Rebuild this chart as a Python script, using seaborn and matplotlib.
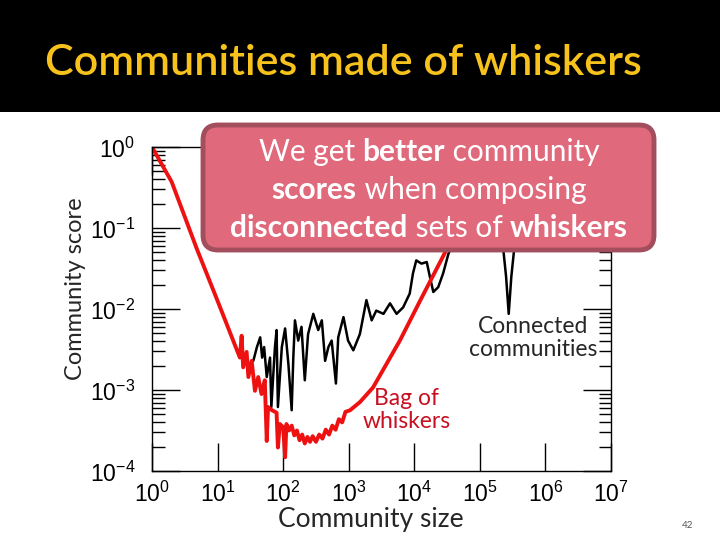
import numpy as np
import matplotlib
matplotlib.use('Agg')
import matplotlib.pyplot as plt
from matplotlib.patches import FancyBboxPatch, Rectangle
import seaborn as sns

sns.set_style('ticks')
plt.rcParams['font.family'] = ['Lato', 'DejaVu Sans']
plt.rcParams['mathtext.fontset'] = 'custom'
plt.rcParams['mathtext.rm'] = 'Liberation Sans'
plt.rcParams['mathtext.it'] = 'Liberation Sans'

# --- data (log10 units) ---
red_log_size = [0.00, 0.30, 0.68, 1.00, 1.34, 1.367, 1.39, 1.443, 1.47, 1.52,
                1.57, 1.62, 1.67, 1.72, 1.75, 1.77, 1.83, 1.90, 1.92, 1.95, 2.00, 2.03,
                2.05, 2.09, 2.13, 2.17, 2.21, 2.25, 2.29, 2.33, 2.37, 2.41, 2.45, 2.50,
                2.55, 2.60, 2.65, 2.70, 2.75, 2.80, 2.85, 2.90, 2.95, 3.02, 3.17, 3.37,
                3.78, 4.10, 4.49, 4.80]
red_log_score = [0.00, -0.43, -1.25, -1.90, -2.60, -2.33, -2.72, -2.53, -2.84, -2.64,
                 -3.01, -2.84, -3.05, -2.88, -3.63, -3.21, -3.25, -3.28, -3.71, -3.42, -3.46, -3.83,
                 -3.42, -3.50, -3.44, -3.56, -3.50, -3.62, -3.55, -3.66, -3.58, -3.64, -3.57, -3.64,
                 -3.55, -3.60, -3.49, -3.55, -3.44, -3.49, -3.36, -3.40, -3.27, -3.25, -3.15, -2.97,
                 -2.39, -1.88, -1.27, -0.85]

black_log_size = [1.545, 1.60, 1.65, 1.68, 1.71, 1.75, 1.80, 1.82, 1.875, 1.90, 1.92, 1.98,
                  2.03, 2.08, 2.13, 2.155, 2.18, 2.23, 2.28, 2.33, 2.38, 2.46, 2.535, 2.59,
                  2.64, 2.69, 2.74, 2.805, 2.84, 2.92, 2.99, 3.07, 3.17, 3.22, 3.27, 3.35,
                  3.42, 3.53, 3.63, 3.73, 3.83, 3.93, 3.98, 4.03, 4.11, 4.19, 4.24, 4.29,
                  4.365, 4.44, 4.52, 4.70, 5.00, 5.33, 5.40, 5.44, 5.48, 5.55, 6.00, 6.60]
black_log_score = [-2.64, -2.47, -2.35, -2.60, -2.47, -2.84, -2.60, -3.21, -2.47, -2.26, -3.21, -2.47,
                   -2.24, -2.68, -3.25, -2.60, -2.14, -2.39, -2.22, -2.88, -2.31, -2.06, -2.26, -2.14,
                   -2.64, -2.47, -2.39, -2.92, -2.35, -2.10, -2.39, -2.51, -2.31, -2.10, -1.89, -2.14,
                   -2.02, -2.06, -1.93, -2.06, -1.98, -1.81, -1.56, -1.40, -1.44, -1.42, -1.61, -1.79,
                   -1.73, -1.56, -1.32, -1.00, -0.95, -1.05, -1.60, -2.06, -1.60, -1.05, -0.90, -0.80]

title = 'Communities made of whiskers'
box_lines = [
    [('We get ', False), ('better', True), (' community', False)],
    [('scores', True), (' when composing', False)],
    [('disconnected', True), (' sets of ', False), ('whiskers', True)],
]

fig = plt.figure(figsize=(7.2, 5.4), dpi=100)
fig.patch.set_facecolor('white')

# black title band
fig.patches.append(Rectangle((0, 1 - 112 / 540), 1, 112 / 540, transform=fig.transFigure,
                             facecolor='black', edgecolor='none', zorder=0))
fig.text(45 / 720, 1 - 63 / 540, title, color='#f8c21c', fontsize=31, fontweight='semibold',
         ha='left', va='center')

ax = fig.add_axes([152 / 720, 1 - 471 / 540, (611 - 152) / 720, (471 - 147) / 540])

black_x = np.power(10.0, black_log_size)
black_y = np.power(10.0, black_log_score)
red_x = np.power(10.0, red_log_size)
red_y = np.power(10.0, red_log_score)
sns.lineplot(x=black_x, y=black_y, sort=False, color='black', lw=1.8, ax=ax)
sns.lineplot(x=red_x, y=red_y, sort=False, color='#ee1111', lw=2.8, ax=ax)

ax.set_xscale('log')
ax.set_yscale('log')
ax.set_xlim(1, 1e7)
ax.set_ylim(1e-4, 1)
ax.set_xticks([10.0 ** k for k in range(8)])
ax.set_yticks([10.0 ** k for k in range(-4, 1)])
ax.set_xticklabels([f'$10^{{{k}}}$' for k in range(8)])
ax.set_yticklabels([f'$10^{{{k}}}$' for k in range(-4, 1)])
ax.tick_params(which='both', direction='in', top=True, right=True, colors='black')
ax.tick_params(which='major', length=20, width=1, labelsize=16.5, pad=7)
ax.tick_params(which='minor', length=9, width=1)
ax.tick_params(axis='y', which='major', pad=12)
for s in ax.spines.values():
    s.set_color('black')
    s.set_linewidth(1)
ax.grid(False)

fig.text(75 / 720, 1 - 289 / 540, 'Community score', rotation=90, fontsize=17,
         ha='center', va='center')
fig.text(371 / 720, 1 - 520 / 540, 'Community size', fontsize=19, ha='center', va='center')
fig.text(533 / 720, 1 - 338 / 540, 'Connected\ncommunities', fontsize=16.5, ha='center',
         va='center', linespacing=1.1)
fig.text(407 / 720, 1 - 410 / 540, 'Bag of\nwhiskers', fontsize=16.5, color='#c81020',
         ha='center', va='center', linespacing=1.1)
fig.text(688 / 720, 1 - 525 / 540, '42', fontsize=7, color='#555555', ha='center', va='center')

# callout box
box = FancyBboxPatch((203 / 100, (540 - 250) / 100), 451 / 100, 125 / 100,
                     boxstyle='round,pad=0,rounding_size=0.15',
                     transform=fig.dpi_scale_trans, facecolor='#e06a7c',
                     edgecolor='#a34e5c', lw=3.5, zorder=5)
fig.patches.append(box)

renderer = fig.canvas.get_renderer()
centers_y = [152, 190, 228]
for pieces, cy in zip(box_lines, centers_y):
    widths = []
    for txt, bold in pieces:
        t = fig.text(0, 0, txt, fontsize=21.5, fontweight='bold' if bold else 'normal')
        widths.append(t.get_window_extent(renderer).width)
        t.remove()
    x = 429 - sum(widths) / 2
    for (txt, bold), w in zip(pieces, widths):
        fig.text(x / 720, 1 - cy / 540, txt, fontsize=21.5, color='white',
                 fontweight='bold' if bold else 'normal', ha='left', va='center', zorder=6)
        x += w

fig.savefig('out.png', dpi=100)
